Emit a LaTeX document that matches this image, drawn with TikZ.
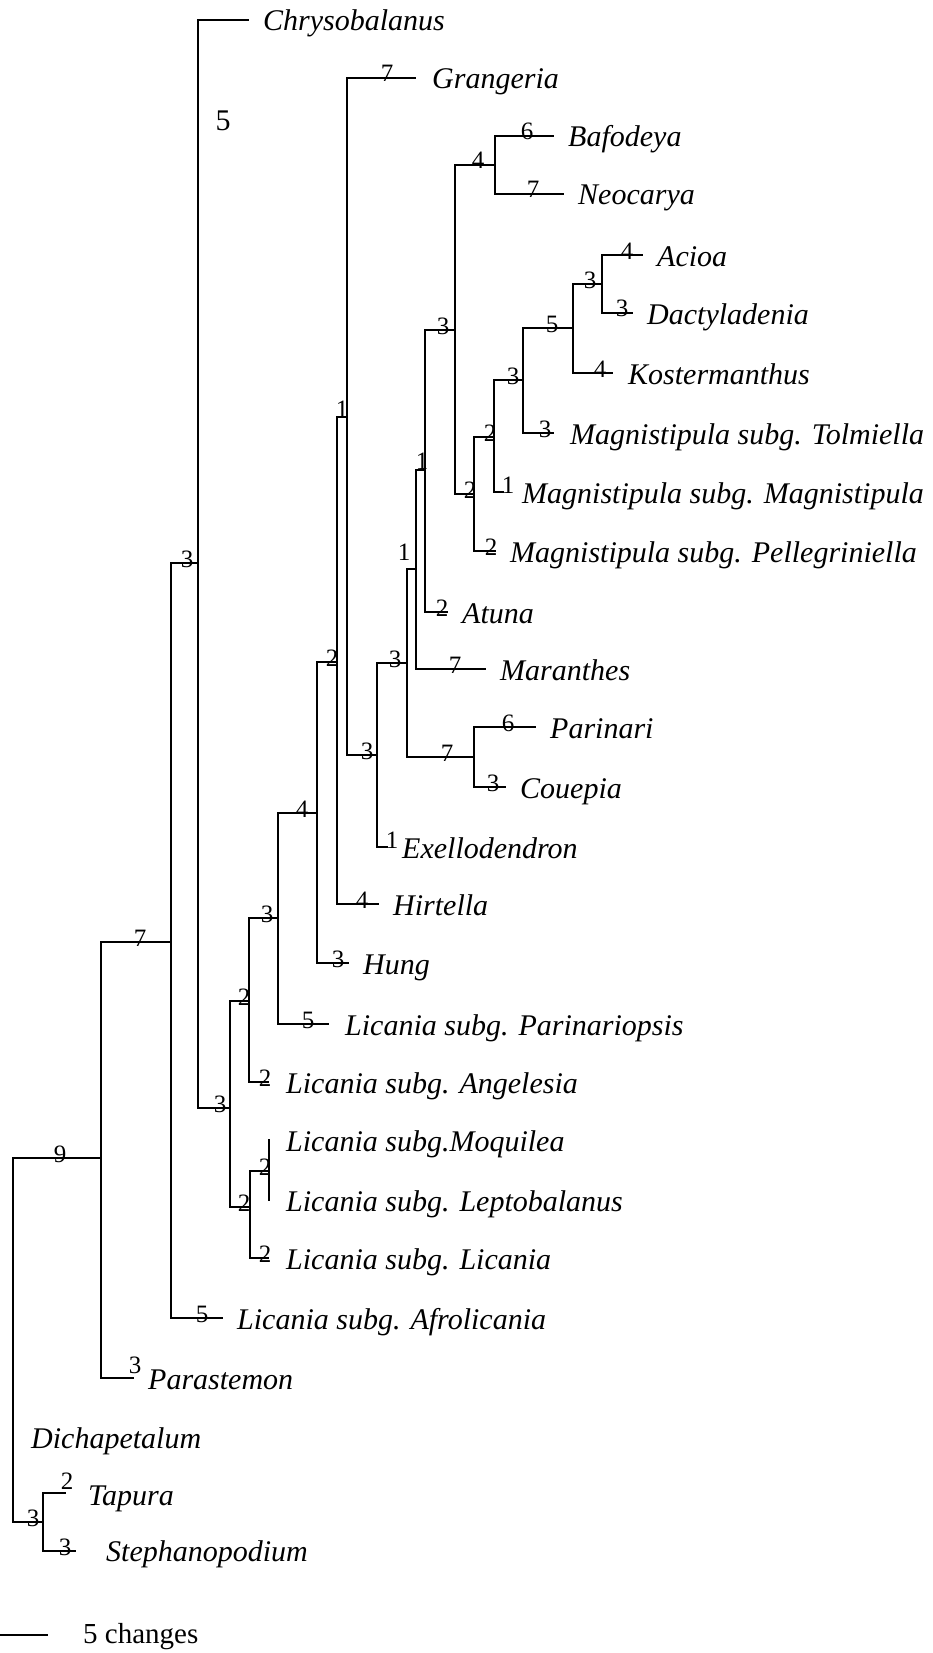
\documentclass[tikz,border=0pt]{standalone}
\usepackage{fontspec}
\setmainfont{Liberation Serif}
\begin{document}
\begin{tikzpicture}[x=1pt,y=-1pt,
  br/.style={line width=2.7pt, line cap=rect},
  taxon/.style={anchor=base west, inner sep=0pt, font=\fontsize{30}{30}\selectfont\itshape},
  num/.style={anchor=base, inner sep=0pt, font=\fontsize{25}{25}\selectfont},
  bignum/.style={anchor=base, inner sep=0pt, font=\fontsize{30}{30}\selectfont},
  scaletext/.style={anchor=base west, inner sep=0pt, font=\fontsize{29}{29}\selectfont}]
\useasboundingbox (0,0) rectangle (932,1653);
% internal nodes
\coordinate (nBN) at (495,165);
\coordinate (nAD) at (602,284);
\coordinate (nADK) at (573,328);
\coordinate (nT) at (523,380);
\coordinate (nM) at (494,437);
\coordinate (nP) at (474,494);
\coordinate (nBig) at (455,330);
\coordinate (nAt) at (425,470);
\coordinate (nMa) at (416,569);
\coordinate (nPC) at (474,757);
\coordinate (nMPC) at (407,663);
\coordinate (nEx) at (377,755);
\coordinate (nGr) at (347,417);
\coordinate (nHi) at (337,662);
\coordinate (nHu) at (317,813);
\coordinate (nPa) at (278,918);
\coordinate (nAn) at (249,1001);
\coordinate (nML) at (269,1171);
\coordinate (nMLL) at (250,1207);
\coordinate (nL) at (230,1108);
\coordinate (nCh) at (198,563);
\coordinate (nAf) at (171,942);
\coordinate (nPr) at (101,1158);
\coordinate (nTS) at (43,1522);
\coordinate (nRoot) at (13,1340);
% leaf ends
\coordinate (lChr) at (248,20);
\coordinate (lGra) at (415,78);
\coordinate (lBaf) at (553,136);
\coordinate (lNeo) at (563,194);
\coordinate (lAci) at (642,255);
\coordinate (lDac) at (632,313);
\coordinate (lKos) at (612,373);
\coordinate (lTol) at (553,433);
\coordinate (lMag) at (503,492);
\coordinate (lPel) at (495,551);
\coordinate (lAtu) at (447,612);
\coordinate (lMar) at (485,669);
\coordinate (lPar) at (535,727);
\coordinate (lCou) at (505,787);
\coordinate (lExe) at (387,847);
\coordinate (lHir) at (378,904);
\coordinate (lHun) at (348,963);
\coordinate (lPrp) at (328,1024);
\coordinate (lAng) at (268,1082);
\coordinate (lMoq) at (269,1140);
\coordinate (lLep) at (269,1200);
\coordinate (lLic) at (268,1258);
\coordinate (lAfr) at (222,1318);
\coordinate (lPst) at (133,1378);
\coordinate (lTap) at (65,1493);
\coordinate (lSte) at (75,1551);
\coordinate (sb1) at (0,1635);
\coordinate (sb2) at (48,1635);
% branches
\draw[br] (lBaf) -| (nBN) |- (lNeo);
\draw[br] (lAci) -| (nAD) |- (lDac);
\draw[br] (nAD) -| (nADK) |- (lKos);
\draw[br] (nADK) -| (nT) |- (lTol);
\draw[br] (nT) -| (nM) |- (lMag);
\draw[br] (nM) -| (nP) |- (lPel);
\draw[br] (nBN) -| (nBig) |- (nP);
\draw[br] (nBig) -| (nAt) |- (lAtu);
\draw[br] (nAt) -| (nMa) |- (lMar);
\draw[br] (lPar) -| (nPC) |- (lCou);
\draw[br] (nMa) -| (nMPC) |- (nPC);
\draw[br] (nMPC) -| (nEx) |- (lExe);
\draw[br] (lGra) -| (nGr) |- (nEx);
\draw[br] (nGr) -| (nHi) |- (lHir);
\draw[br] (nHi) -| (nHu) |- (lHun);
\draw[br] (nHu) -| (nPa) |- (lPrp);
\draw[br] (nPa) -| (nAn) |- (lAng);
\draw[br] (lMoq) -| (nML) |- (lLep);
\draw[br] (nML) -| (nMLL) |- (lLic);
\draw[br] (nAn) -| (nL) |- (nMLL);
\draw[br] (lChr) -| (nCh) |- (nL);
\draw[br] (nCh) -| (nAf) |- (lAfr);
\draw[br] (nAf) -| (nPr) |- (lPst);
\draw[br] (lTap) -| (nTS) |- (lSte);
\draw[br] (nPr) -| (nRoot) |- (nTS);
\draw[line width=1.8pt] (sb1) -- (sb2);
% taxon labels
\node[taxon] (tChr) at (263,31) {Chrysobalanus};
\node[taxon] (tGra) at (432,89) {Grangeria};
\node[taxon] (tBaf) at (568,147) {Bafodeya};
\node[taxon] (tNeo) at (578,205) {Neocarya};
\node[taxon] (tAci) at (657,266) {Acioa};
\node[taxon] (tDac) at (647,324) {Dactyladenia};
\node[taxon] (tKos) at (628,384) {Kostermanthus};
\node[taxon] (tTol) at (570,444) {Magnistipula subg. Tolmiella};
\node[taxon] (tMag) at (522,503) {Magnistipula subg. Magnistipula};
\node[taxon] (tPel) at (510,562) {Magnistipula subg. Pellegriniella};
\node[taxon] (tAtu) at (462,623) {Atuna};
\node[taxon] (tMar) at (500,680) {Maranthes};
\node[taxon] (tPar) at (550,738) {Parinari};
\node[taxon] (tCou) at (520,798) {Couepia};
\node[taxon] (tExe) at (402,858) {Exellodendron};
\node[taxon] (tHir) at (393,915) {Hirtella};
\node[taxon] (tHun) at (363,974) {Hung};
\node[taxon] (tPrp) at (345,1035) {Licania subg. Parinariopsis};
\node[taxon] (tAng) at (286,1093) {Licania subg. Angelesia};
\node[taxon] (tMoq) at (286,1151) {Licania subg.Moquilea};
\node[taxon] (tLep) at (286,1211) {Licania subg. Leptobalanus};
\node[taxon] (tLic) at (286,1269) {Licania subg. Licania};
\node[taxon] (tAfr) at (237,1329) {Licania subg. Afrolicania};
\node[taxon] (tPst) at (148,1389) {Parastemon};
\node[taxon] (tDic) at (31,1448) {Dichapetalum};
\node[taxon] (tTap) at (88,1505) {Tapura};
\node[taxon] (tSte) at (106,1561) {Stephanopodium};
\node[scaletext] (tScale) at (83,1643) {5 changes};
% branch numbers
\node[bignum] (c1) at (223,131) {5};
\node[num] (c2) at (387,82) {7};
\node[num] (c3) at (527,140) {6};
\node[num] (c4) at (533,198) {7};
\node[num] (c5) at (478,169) {4};
\node[num] (c6) at (627,259) {4};
\node[num] (c7) at (622,316) {3};
\node[num] (c8) at (590,288) {3};
\node[num] (c9) at (600,377) {4};
\node[num] (c10) at (552,332) {5};
\node[num] (c11) at (545,437) {3};
\node[num] (c12) at (513,384) {3};
\node[num] (c13) at (508,493) {1};
\node[num] (c14) at (490,441) {2};
\node[num] (c15) at (491,555) {2};
\node[num] (c16) at (470,498) {2};
\node[num] (c17) at (443,334) {3};
\node[num] (c18) at (442,616) {2};
\node[num] (c19) at (422,469) {1};
\node[num] (c20) at (455,673) {7};
\node[num] (c21) at (404,560) {1};
\node[num] (c22) at (508,731) {6};
\node[num] (c23) at (493,791) {3};
\node[num] (c24) at (447,761) {7};
\node[num] (c25) at (395,667) {3};
\node[num] (c26) at (392,848) {1};
\node[num] (c27) at (367,759) {3};
\node[num] (c28) at (342,417) {1};
\node[num] (c29) at (362,908) {4};
\node[num] (c30) at (332,666) {2};
\node[num] (c31) at (338,967) {3};
\node[num] (c32) at (302,817) {4};
\node[num] (c33) at (308,1028) {5};
\node[num] (c34) at (267,922) {3};
\node[num] (c35) at (265,1086) {2};
\node[num] (c36) at (244,1005) {2};
\node[num] (c37) at (265,1175) {2};
\node[num] (c38) at (265,1262) {2};
\node[num] (c39) at (244,1211) {2};
\node[num] (c40) at (220,1112) {3};
\node[num] (c41) at (187,567) {3};
\node[num] (c42) at (202,1322) {5};
\node[num] (c43) at (140,946) {7};
\node[num] (c44) at (135,1373) {3};
\node[num] (c45) at (60,1162) {9};
\node[num] (c46) at (67,1489) {2};
\node[num] (c47) at (33,1526) {3};
\node[num] (c48) at (65,1555) {3};
\end{tikzpicture}
\end{document}
